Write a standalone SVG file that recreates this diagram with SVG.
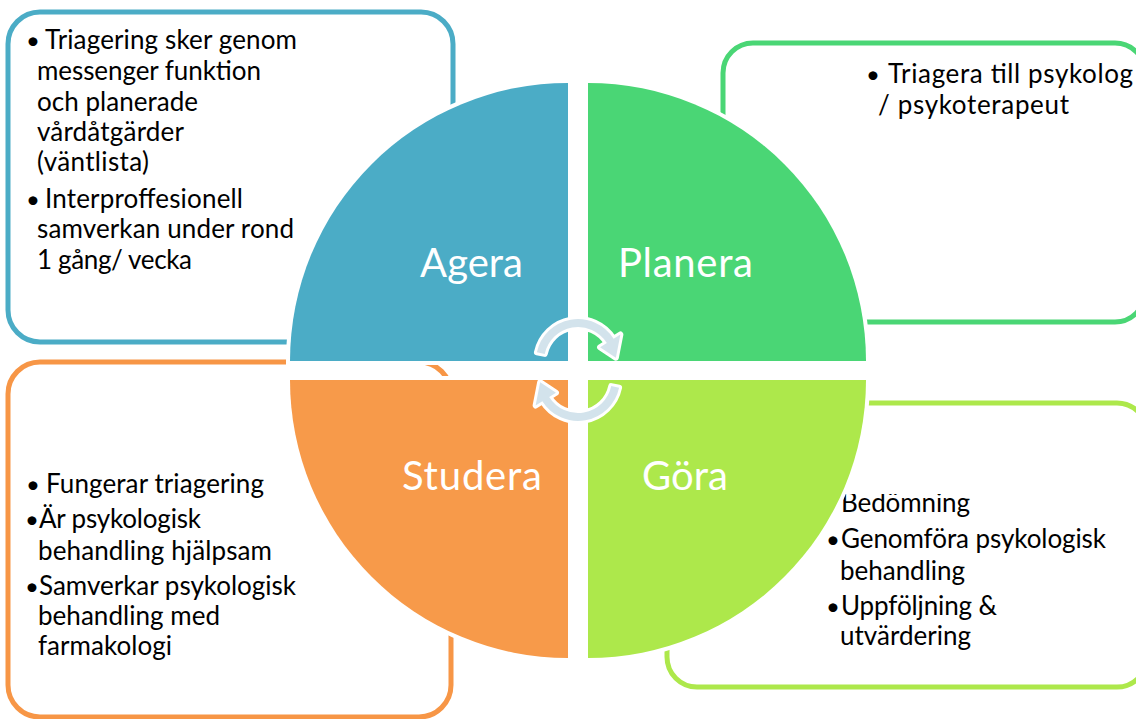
<svg xmlns="http://www.w3.org/2000/svg" width="1136" height="719" viewBox="0 0 1136 719">
  <defs>
    <style>
      .box { fill: #FFFFFF; stroke-width: 5; }
      .txt { font-family: Lato, "Liberation Sans", sans-serif; font-size: 26px; fill: #000000; }
      .bul { font-family: Lato, "Liberation Sans", sans-serif; font-size: 24px; fill: #000000; }
      .quad { stroke: #FFFFFF; stroke-width: 8; paint-order: stroke; }
      .lbl { font-family: Lato, "Liberation Sans", sans-serif; font-size: 40px; fill: #FFFFFF; }
      .cyc { fill: #D3E3EC; stroke: #FFFFFF; stroke-width: 6; paint-order: stroke; stroke-linejoin: round; }
    </style>
    <clipPath id="goraTextClip">
      <rect x="660" y="494" width="480" height="200"/>
    </clipPath>
    <path id="cycleArrow" d="M536.92 352.27 A42 42 0 0 1 613.62 338.74 L620.40 334.51 L615.86 357.69 L600.05 347.22 L606.83 342.98 A34 34 0 0 0 544.74 353.93 Z"/>
  </defs>

  <rect width="1136" height="719" fill="#FFFFFF"/>

  <!-- Agera: note box -->
  <g id="agera-box">
    <rect class="box" x="8" y="12" width="445" height="330" rx="32" stroke="#4BACC6"/>
    <text class="bul" x="26" y="49">•</text>
    <text class="txt" x="45" y="49" textLength="252">Triagering sker genom</text>
    <text class="txt" x="37" y="80" textLength="224">messenger funktion</text>
    <text class="txt" x="37" y="111" textLength="161">och planerade</text>
    <text class="txt" x="37" y="141" textLength="147">vårdåtgärder</text>
    <text class="txt" x="37" y="171" textLength="112">(väntlista)</text>
    <text class="bul" x="26" y="208">•</text>
    <text class="txt" x="45" y="208" textLength="198">Interproffesionell</text>
    <text class="txt" x="37" y="238" textLength="257">samverkan under rond</text>
    <text class="txt" x="37" y="269" textLength="155">1 gång/ vecka</text>
  </g>

  <!-- Planera: note box -->
  <g id="planera-box">
    <rect class="box" x="723" y="43" width="422" height="279" rx="30" stroke="#4AD675"/>
    <text class="bul" x="866" y="83">•</text>
    <text class="txt" x="888" y="83" textLength="245">Triagera till psykolog</text>
    <text class="txt" x="878" y="114" textLength="191">/ psykoterapeut</text>
  </g>

  <!-- Studera: note box -->
  <g id="studera-box">
    <rect class="box" x="8" y="362" width="443" height="355" rx="32" stroke="#F79646"/>
    <text class="bul" x="26" y="493">•</text>
    <text class="txt" x="46" y="493" textLength="218">Fungerar triagering</text>
    <text class="bul" x="25" y="528">•</text>
    <text class="txt" x="39" y="528" textLength="162">Är psykologisk</text>
    <text class="txt" x="38" y="560" textLength="234">behandling hjälpsam</text>
    <text class="bul" x="25" y="595">•</text>
    <text class="txt" x="39" y="595" textLength="257">Samverkar psykologisk</text>
    <text class="txt" x="38" y="625" textLength="182">behandling med</text>
    <text class="txt" x="38" y="655" textLength="134">farmakologi</text>
  </g>

  <!-- Göra: note box -->
  <g id="gora-box">
    <rect class="box" x="667" y="403" width="480" height="284" rx="30" stroke="#ADE84B"/>
    <g clip-path="url(#goraTextClip)">
      <text class="txt" x="841" y="512" textLength="129">Bedömning</text>
      <text class="bul" x="826" y="548">•</text>
      <text class="txt" x="841" y="548" textLength="265">Genomföra psykologisk</text>
      <text class="txt" x="840" y="580" textLength="125">behandling</text>
      <text class="bul" x="826" y="615">•</text>
      <text class="txt" x="841" y="615" textLength="156">Uppföljning &amp;</text>
      <text class="txt" x="840" y="645" textLength="131">utvärdering</text>
    </g>
  </g>

  <!-- Four quarter-circle segments -->
  <g id="agera">
    <path class="quad" fill="#4BACC6" d="M568 361 L290 361 A278 278 0 0 1 568 83 Z"/>
    <text class="lbl" x="420" y="277" textLength="103">Agera</text>
  </g>
  <g id="planera">
    <path class="quad" fill="#4AD675" d="M588 361 L588 83 A278 278 0 0 1 866 361 Z"/>
    <text class="lbl" x="618" y="277" textLength="135">Planera</text>
  </g>
  <g id="studera">
    <path class="quad" fill="#F79A4A" d="M568 380 L568 658 A278 278 0 0 1 290 380 Z"/>
    <text class="lbl" x="402" y="490" textLength="140">Studera</text>
  </g>
  <g id="gora">
    <path class="quad" fill="#ADE84B" d="M588 380 L866 380 A278 278 0 0 1 588 658 Z"/>
    <text class="lbl" x="642" y="490" textLength="86">Göra</text>
  </g>

  <!-- Cycle arrows in the centre -->
  <g id="connectors">
    <use href="#cycleArrow" class="cyc"/>
    <use href="#cycleArrow" class="cyc" transform="rotate(180 578 370)"/>
  </g>
</svg>
